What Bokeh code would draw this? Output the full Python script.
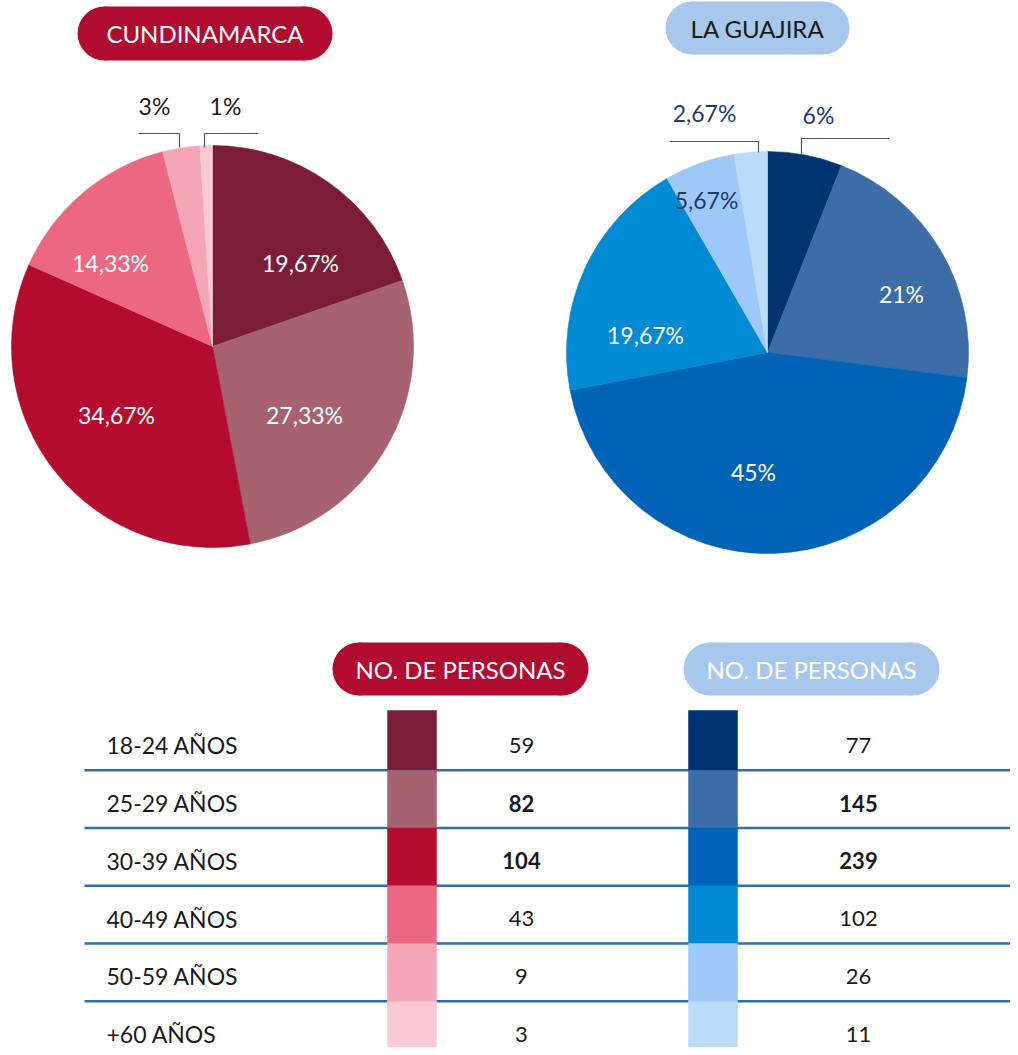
from bokeh.plotting import figure
from bokeh.models import Range1d, ColumnDataSource
from bokeh.core.properties import value
from bokeh.embed import file_html
from bokeh.resources import INLINE
import math

# ---------------- DATA ----------------
grupos = ["18-24 AÑOS", "25-29 AÑOS", "30-39 AÑOS", "40-49 AÑOS", "50-59 AÑOS", "+60 AÑOS"]
cund_personas = [59, 82, 104, 43, 9, 3]
guaj_personas = [77, 145, 239, 102, 26, 11]
cund_pct = [19.67, 27.33, 34.67, 14.33, 3.0, 1.0]
guaj_pct = [6.0, 21.0, 45.0, 19.67, 5.67, 2.67]
cund_pct_labels = ["19,67%", "27,33%", "34,67%", "14,33%", "3%", "1%"]
guaj_pct_labels = ["6%", "21%", "45%", "19,67%", "5,67%", "2,67%"]
destacado = [False, True, True, False, False, False]
titulo_cund = "CUNDINAMARCA"
titulo_guaj = "LA GUAJIRA"
encabezado = "NO. DE PERSONAS"

# ---------------- STYLE / LAYOUT ----------------
cund_colors = ["#7B1D36", "#A66271", "#B30C2F", "#EC6882", "#F4A5B7", "#F9C9D4"]
guaj_colors = ["#003370", "#3D6DA7", "#0163B8", "#008AD3", "#9EC8F7", "#BBDCF9"]
RED = "#B20B30"
LIGHTBLUE = "#A8C7EC"
NAVY = "#1F3B6E"
DARK = "#1a1a1a"
FONT = value("Lato")
W, H = 1010, 1047


def Y(py):
    return H - py


p = figure(width=W, height=H, output_backend="svg", toolbar_location=None,
           x_range=Range1d(0, W), y_range=Range1d(0, H), min_border=0)
p.axis.visible = False
p.grid.visible = False
p.outline_line_color = None
p.background_fill_color = "white"
p.border_fill_color = "white"


def pill(x0, x1, ytop, ybot, color, text, tcolor, size="22px"):
    r = (ybot - ytop) / 2.0
    yc = Y((ytop + ybot) / 2.0)
    p.quad(left=[x0 + r], right=[x1 - r], top=[Y(ytop)], bottom=[Y(ybot)],
           fill_color=color, line_color=None)
    p.circle(x=[x0 + r, x1 - r], y=[yc, yc], radius=r, fill_color=color, line_color=None)
    p.text(x=[(x0 + x1) / 2.0], y=[yc], text=[text], text_color=tcolor, text_font=FONT,
           text_font_size=size, text_align="center", text_baseline="middle")


def pie(cx, cy, r, pct, colors, labels, label_pos, label_colors):
    total = sum(pct)
    cum = 0.0
    starts, ends = [], []
    for v in pct:
        a0 = math.pi / 2 - 2 * math.pi * cum / total
        cum += v
        a1 = math.pi / 2 - 2 * math.pi * cum / total
        starts.append(a1)
        ends.append(a0)
    src = ColumnDataSource(dict(x=[cx] * len(pct), y=[Y(cy)] * len(pct), s=starts, e=ends, c=colors))
    p.wedge(x="x", y="y", radius=r, start_angle="s", end_angle="e", direction="anticlock",
            fill_color="c", line_color="c", line_width=0.6, source=src)
    lsrc = ColumnDataSource(dict(x=[q[0] for q in label_pos], y=[Y(q[1]) for q in label_pos],
                                 t=labels, c=label_colors))
    p.text(x="x", y="y", text="t", text_color="c", text_font=FONT, text_font_size="23px",
           text_align="center", text_baseline="middle", source=lsrc)


# Titles
pill(77, 332, 6, 60, RED, titulo_cund, "white", "24px")
pill(665, 849, 1, 54, LIGHTBLUE, titulo_guaj, DARK, "24px")

# Pies
pie(212, 346, 201, cund_pct, cund_colors, cund_pct_labels,
    [(300, 262), (304, 414), (116, 414), (110, 262), (154, 105), (225, 105)],
    ["white", "white", "white", "white", DARK, DARK])
pie(767, 352, 201, guaj_pct, guaj_colors, guaj_pct_labels,
    [(818, 114), (901, 293), (753, 471), (645, 334), (706, 199), (704, 112)],
    [NAVY, "white", "white", "white", NAVY, NAVY])

# Callout lines
callouts = [
    ([138, 179, 179], [133, 133, 147]),
    ([204, 204, 258], [147, 133, 133]),
    ([669, 758, 758], [141, 141, 152]),
    ([801, 801, 889], [154, 138, 138]),
]
p.multi_line(xs=[c[0] for c in callouts], ys=[[Y(v) for v in c[1]] for c in callouts],
             line_color="#555555", line_width=1.2)

# Table headers
pill(332, 588, 642, 695, RED, encabezado, "white", "24px")
pill(683, 939, 642, 695, LIGHTBLUE, encabezado, "white", "24px")

# Table rows
n = len(grupos)
top0 = 712.0
row_h = 57.75
bounds = [top0 + row_h * (i + 1) for i in range(n)]
sep_y = bounds[:-1]
p.multi_line(xs=[[84, W]] * len(sep_y), ys=[[Y(v), Y(v)] for v in sep_y],
             line_color="#2D6DB5", line_width=2.5)

sw_top = [710.0] + bounds[:-1]
sw_bot = bounds[:-1] + [H + 5]
for (x0, x1, cols) in [(387, 436, cund_colors), (688, 737, guaj_colors)]:
    p.quad(left=[x0] * n, right=[x1] * n, top=[Y(v) for v in sw_top], bottom=[Y(v) for v in sw_bot],
           fill_color=cols, line_color=cols, line_width=0.5)

text_y = [Y(b - 25) for b in bounds]
p.text(x=[106] * n, y=text_y, text=grupos, text_color=DARK, text_font=FONT,
       text_font_size="23px", text_align="left", text_baseline="middle")

for xc, vals in [(521, cund_personas), (858, guaj_personas)]:
    for i, v in enumerate(vals):
        p.text(x=[xc], y=[text_y[i]], text=[str(v)], text_color=DARK, text_font=FONT,
               text_font_size="22px", text_align="center", text_baseline="middle",
               text_font_style="bold" if destacado[i] else "normal")

open("out.html", "w").write(file_html(p, INLINE))
